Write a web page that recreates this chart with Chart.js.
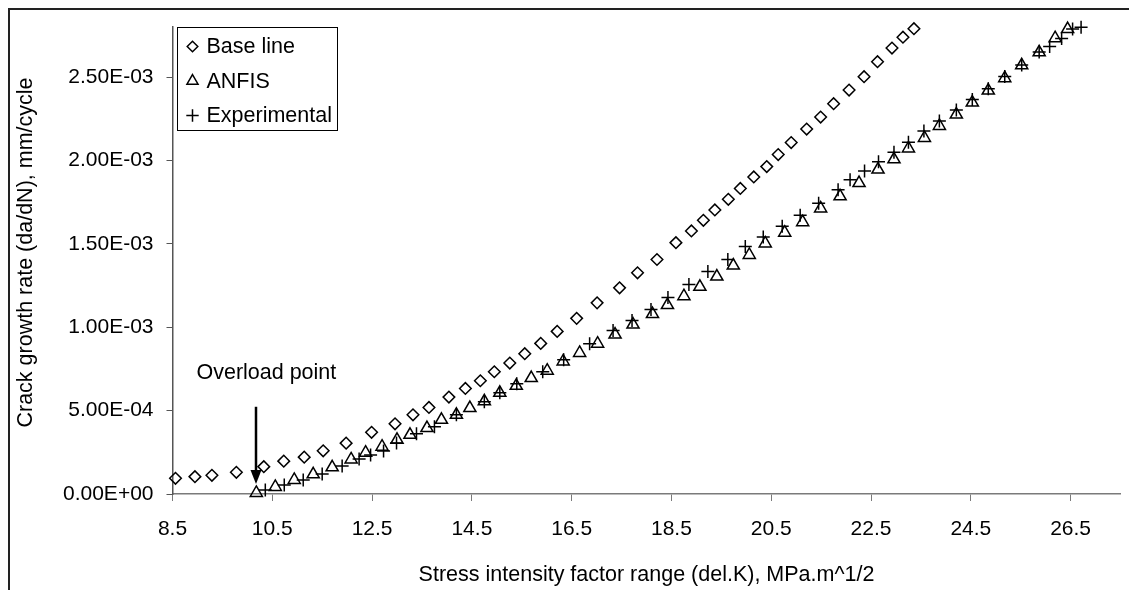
<!DOCTYPE html>
<html>
<head>
<meta charset="utf-8">
<title>Crack growth rate vs stress intensity factor range</title>
<style>
  html, body { margin: 0; padding: 0; background: #ffffff; }
  #wrap { width: 1129px; height: 590px; position: relative; overflow: hidden; }
  canvas { display: block; }
</style>
<script src="https://cdn.jsdelivr.net/npm/chart.js@4.4.1/dist/chart.umd.min.js"></script>
</head>
<body>
<div id="wrap"><canvas id="chart" width="1129" height="590"></canvas></div>
<script>
// Stress intensity factor range (MPa.m^1/2) and crack growth rate (10^-3 mm/cycle)
const baseK = [8.56, 8.95, 9.29, 9.78, 10.33, 10.73, 11.14, 11.52, 11.98, 12.49,
  12.96, 13.32, 13.64, 14.04, 14.37, 14.67, 14.95, 15.26, 15.56, 15.88,
  16.21, 16.60, 17.01, 17.46, 17.82, 18.21, 18.59, 18.90, 19.14, 19.37,
  19.64, 19.88, 20.15, 20.41, 20.64, 20.90, 21.21, 21.49, 21.75, 22.06,
  22.36, 22.63, 22.92, 23.14, 23.36];
const baseRate = [0.094, 0.104, 0.112, 0.130, 0.164, 0.197, 0.221, 0.259, 0.305, 0.370,
  0.421, 0.475, 0.519, 0.581, 0.633, 0.679, 0.733, 0.785, 0.841, 0.903,
  0.975, 1.053, 1.146, 1.236, 1.326, 1.406, 1.507, 1.577, 1.641, 1.703,
  1.767, 1.832, 1.901, 1.963, 2.035, 2.107, 2.188, 2.260, 2.340, 2.422,
  2.502, 2.592, 2.674, 2.739, 2.790];

const anfisK = [10.18, 10.56, 10.94, 11.32, 11.70, 12.08, 12.37, 12.70, 13.00, 13.26,
  13.60, 13.89, 14.19, 14.46, 14.75, 15.06, 15.39, 15.69, 16.01, 16.33,
  16.66, 17.02, 17.37, 17.73, 18.12, 18.42, 18.75, 19.07, 19.41, 19.74,
  20.06, 20.38, 20.77, 21.13, 21.49, 21.88, 22.26, 22.64, 22.96, 23.25,
  23.57, 23.87, 24.21, 24.53, 24.85, 25.18, 25.52, 25.87, 26.19, 26.44];
const anfisRate = [0.006, 0.042, 0.084, 0.118, 0.160, 0.207, 0.248, 0.284, 0.325, 0.355,
  0.395, 0.445, 0.475, 0.515, 0.556, 0.607, 0.649, 0.695, 0.739, 0.795,
  0.846, 0.901, 0.956, 1.016, 1.079, 1.133, 1.186, 1.242, 1.304, 1.370,
  1.433, 1.502, 1.567, 1.630, 1.712, 1.785, 1.864, 1.945, 2.007, 2.072,
  2.135, 2.207, 2.275, 2.347, 2.419, 2.493, 2.570, 2.648, 2.733, 2.788];

const expK = [10.36, 10.74, 11.12, 11.50, 11.90, 12.24, 12.47, 12.73, 12.99, 13.39,
  13.75, 14.19, 14.75, 15.06, 15.40, 15.92, 16.34, 16.86, 17.33, 17.71,
  18.09, 18.43, 18.85, 19.23, 19.63, 19.98, 20.34, 20.72, 21.08, 21.45,
  21.84, 22.08, 22.37, 22.65, 22.96, 23.25, 23.56, 23.87, 24.21, 24.53,
  24.85, 25.18, 25.52, 25.87, 26.08, 26.32, 26.54, 26.71];
const expRate = [0.024, 0.054, 0.084, 0.120, 0.168, 0.210, 0.234, 0.258, 0.306, 0.361,
  0.403, 0.475, 0.553, 0.607, 0.661, 0.733, 0.805, 0.901, 0.980, 1.040,
  1.106, 1.178, 1.256, 1.334, 1.406, 1.484, 1.541, 1.605, 1.671, 1.743,
  1.824, 1.884, 1.937, 1.992, 2.049, 2.109, 2.177, 2.237, 2.302, 2.365,
  2.430, 2.503, 2.572, 2.650, 2.683, 2.731, 2.788, 2.799];

const seriesNames = ['Base line', 'ANFIS', 'Experimental'];

const xTickValues = [8.5, 10.5, 12.5, 14.5, 16.5, 18.5, 20.5, 22.5, 24.5, 26.5];
const yTickValues = [0, 0.0005, 0.001, 0.0015, 0.002, 0.0025];

const xTitle = 'Stress intensity factor range (del.K), MPa.m^1/2';
const yTitle = 'Crack growth rate (da/dN), mm/cycle';

// Overload annotation: arrow position (K) and its vertical extent (10^-3 mm/cycle)
const overloadText = 'Overload point';
const overloadK = 10.18;
const overloadArrowFrom = 0.523;
const overloadArrowTo = 0.060;
const overloadTextK = 8.98;
const overloadTextRate = 0.727;

const FONT = '"Liberation Sans", Arial, Helvetica, sans-serif';
const MILLI = 1e-3;

function points(ks, rates) {
  return ks.map((k, i) => ({ x: k, y: rates[i] * MILLI }));
}

function sciLabel(v) {
  const parts = Number(v).toExponential(2).split('e');
  const e = parseInt(parts[1], 10);
  return parts[0] + 'E' + (e < 0 ? '-' : '+') + String(Math.abs(e)).padStart(2, '0');
}

const markerCommon = {
  showLine: false,
  borderColor: '#000000',
  backgroundColor: 'rgba(0,0,0,0)',
  pointBorderColor: '#000000',
  pointBackgroundColor: 'rgba(0,0,0,0)',
  pointBorderWidth: 1.5,
  pointHoverRadius: 0,
  clip: false
};

// Page frame drawn behind the chart
const framePlugin = {
  id: 'frame',
  beforeDraw(chart) {
    const ctx = chart.ctx;
    ctx.save();
    ctx.fillStyle = '#ffffff';
    ctx.fillRect(0, 0, chart.width, chart.height);
    ctx.strokeStyle = '#222222';
    ctx.lineWidth = 2;
    ctx.strokeRect(9, 9, chart.width + 40, chart.height + 40);
    ctx.restore();
  }
};

// Rotated y-axis title
const yTitlePlugin = {
  id: 'yTitle',
  afterDraw(chart) {
    const ctx = chart.ctx;
    ctx.save();
    ctx.translate(26, 252.5);
    ctx.rotate(-Math.PI / 2);
    ctx.font = '21.5px ' + FONT;
    ctx.fillStyle = '#000000';
    ctx.textAlign = 'center';
    ctx.textBaseline = 'middle';
    ctx.fillText(yTitle, 0, 0);
    ctx.restore();
  }
};

// "Overload point" label with a downward arrow
const overloadPlugin = {
  id: 'overload',
  afterDatasetsDraw(chart) {
    const ctx = chart.ctx;
    const xs = chart.scales.x, ys = chart.scales.y;
    const ax = Math.round(xs.getPixelForValue(overloadK));
    const yTop = ys.getPixelForValue(overloadArrowFrom * MILLI);
    const yTip = ys.getPixelForValue(overloadArrowTo * MILLI);
    const headLen = 14, headHalf = 5.5;
    ctx.save();
    ctx.strokeStyle = '#000000';
    ctx.fillStyle = '#000000';
    ctx.lineWidth = 2.5;
    ctx.beginPath();
    ctx.moveTo(ax, yTop);
    ctx.lineTo(ax, yTip - headLen + 1);
    ctx.stroke();
    ctx.beginPath();
    ctx.moveTo(ax - headHalf, yTip - headLen);
    ctx.lineTo(ax + headHalf, yTip - headLen);
    ctx.lineTo(ax, yTip);
    ctx.closePath();
    ctx.fill();
    ctx.font = '21.5px ' + FONT;
    ctx.textAlign = 'left';
    ctx.textBaseline = 'middle';
    ctx.fillText(overloadText, xs.getPixelForValue(overloadTextK), ys.getPixelForValue(overloadTextRate * MILLI));
    ctx.restore();
  }
};

// Boxed legend inside the plot area, top-left
const legendBoxPlugin = {
  id: 'legendBox',
  afterDraw(chart) {
    const ctx = chart.ctx;
    const area = chart.chartArea;
    const left = Math.round(area.left + 4) + 0.5;
    const top = Math.round(area.top) + 0.5;
    const w = 160, h = 103, rowH = 34.5;
    ctx.save();
    ctx.fillStyle = '#ffffff';
    ctx.fillRect(left, top, w, h);
    ctx.strokeStyle = '#000000';
    ctx.lineWidth = 1;
    ctx.strokeRect(left, top, w, h);
    ctx.font = '21.5px ' + FONT;
    ctx.fillStyle = '#000000';
    ctx.textAlign = 'left';
    ctx.textBaseline = 'middle';
    chart.data.datasets.forEach((ds, i) => {
      const cy = top + 19 + i * rowH;
      const cx = left + 15;
      ctx.save();
      ctx.strokeStyle = '#000000';
      ctx.fillStyle = 'rgba(0,0,0,0)';
      ctx.lineWidth = 1.5;
      Chart.helpers.drawPoint(ctx, {
        pointStyle: ds.pointStyle,
        radius: ds.legendRadius,
        rotation: 0,
        borderWidth: 1.5
      }, cx, cy);
      ctx.restore();
      ctx.fillStyle = '#000000';
      ctx.fillText(ds.label, left + 29, cy + 1);
    });
    ctx.restore();
  }
};

new Chart(document.getElementById('chart'), {
  type: 'scatter',
  data: {
    datasets: [
      Object.assign({}, markerCommon, {
        label: seriesNames[0], data: points(baseK, baseRate),
        pointStyle: 'rectRot', pointRadius: 5.8, legendRadius: 5.3
      }),
      Object.assign({}, markerCommon, {
        label: seriesNames[1], data: points(anfisK, anfisRate),
        pointStyle: 'triangle', pointRadius: 7, legendRadius: 6.4
      }),
      Object.assign({}, markerCommon, {
        label: seriesNames[2], data: points(expK, expRate),
        pointStyle: 'cross', pointRadius: 6.5, legendRadius: 6.2
      })
    ]
  },
  options: {
    responsive: false,
    animation: false,
    events: [],
    devicePixelRatio: 1,
    layout: { padding: { left: 0, top: 27, right: 1, bottom: 0 } },
    plugins: {
      legend: { display: false },
      tooltip: { enabled: false }
    },
    scales: {
      x: {
        type: 'linear',
        position: 'bottom',
        min: 8.5,
        max: 27.5,
        afterBuildTicks(scale) { scale.ticks = xTickValues.map(v => ({ value: v })); },
        afterFit(scale) { scale.height = 96; },
        border: { display: true, color: '#7a7a7a', width: 1.5 },
        grid: { display: true, drawOnChartArea: false, drawTicks: true, tickLength: 7, color: '#7a7a7a', tickWidth: 1 },
        ticks: {
          color: '#000000',
          font: { family: FONT, size: 21 },
          padding: 16,
          maxRotation: 0,
          autoSkip: false,
          callback: v => Number(v).toFixed(1)
        },
        title: {
          display: true,
          text: xTitle,
          color: '#000000',
          font: { family: FONT, size: 21.5 },
          padding: { top: 0, bottom: 2.4 }
        }
      },
      y: {
        type: 'linear',
        position: 'left',
        min: 0,
        max: 0.0028,
        afterBuildTicks(scale) { scale.ticks = yTickValues.map(v => ({ value: v })); },
        afterFit(scale) { scale.width = 172.5; },
        border: { display: true, color: '#555555', width: 1.5 },
        grid: { display: true, drawOnChartArea: false, drawTicks: true, tickLength: 6, color: '#555555', tickWidth: 1 },
        ticks: {
          color: '#000000',
          font: { family: FONT, size: 21 },
          padding: 13,
          autoSkip: false,
          callback: v => sciLabel(v)
        }
      }
    }
  },
  plugins: [framePlugin, yTitlePlugin, overloadPlugin, legendBoxPlugin]
});
</script>
</body>
</html>
